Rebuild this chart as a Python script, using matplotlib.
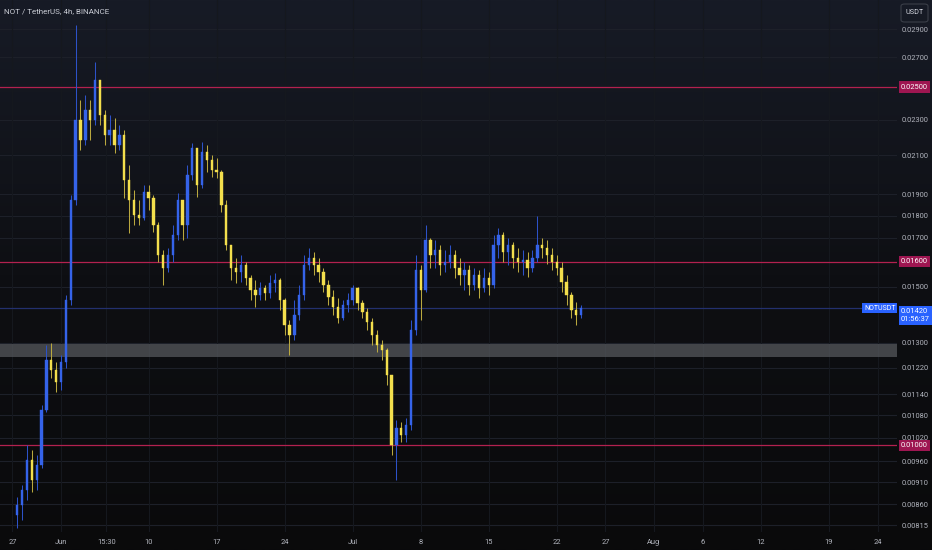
import matplotlib.pyplot as plt
import matplotlib.dates as mdates
import numpy as np
import pandas as pd
from matplotlib.colors import LinearSegmentedColormap
from matplotlib.patches import FancyBboxPatch

# NOT / USDT, 12h candles
FIRST_OPEN = 0.00837
START = "2024-05-27 12:00"

close = [0.00858, 0.00892, 0.00963, 0.00915, 0.00951, 0.01094, 0.01244, 0.01212, 0.01176, 0.01237,
         0.0145, 0.01873, 0.02298, 0.02183, 0.02357, 0.02298, 0.02545, 0.02327, 0.02212, 0.0224,
         0.02156, 0.02212, 0.01971, 0.01873, 0.01802, 0.01788, 0.01911, 0.01882, 0.01757, 0.01627,
         0.01574, 0.01627, 0.01712, 0.01873, 0.01757, 0.01996, 0.02139, 0.01946, 0.02117, 0.02074,
         0.02022, 0.02012, 0.01849, 0.01669, 0.01574, 0.01558, 0.01586, 0.01534, 0.01488, 0.01469,
         0.01496, 0.01476, 0.01515, 0.01526, 0.0145, 0.0136, 0.01326, 0.01395, 0.01469, 0.01586,
         0.01614, 0.01586, 0.01558, 0.01507, 0.01461, 0.01424, 0.01385, 0.01432, 0.0145, 0.01496,
         0.01439, 0.01406, 0.01371, 0.01326, 0.01292, 0.01276, 0.01197, 0.01001, 0.01045, 0.01027,
         0.01053, 0.01343, 0.01566, 0.01488, 0.01691, 0.01627, 0.01648, 0.01586, 0.01598, 0.01627,
         0.01574, 0.01546, 0.01566, 0.01507, 0.01546, 0.01496, 0.01534, 0.01507, 0.01669, 0.01712,
         0.0164, 0.01669, 0.01614, 0.01598, 0.01606, 0.01574, 0.01614, 0.01669, 0.01656, 0.01627,
         0.01598, 0.01574, 0.01518, 0.01469, 0.01413, 0.01395, 0.0142]

high = [0.00876, 0.00904, 0.01001, 0.00988, 0.00976, 0.01109, 0.01292, 0.01299, 0.01237, 0.0126,
        0.01469, 0.01897, 0.0293, 0.02419, 0.0245, 0.02419, 0.02665, 0.02513, 0.02357, 0.02327,
        0.0231, 0.02269, 0.0224, 0.02048, 0.01921, 0.01873, 0.01946, 0.01946, 0.01897, 0.0177,
        0.01648, 0.01656, 0.01757, 0.01907, 0.01849, 0.02048, 0.02167, 0.02128, 0.02172, 0.02156,
        0.02101, 0.02085, 0.02022, 0.01873, 0.01669, 0.01614, 0.01627, 0.01598, 0.01546, 0.01526,
        0.01518, 0.01507, 0.01546, 0.01554, 0.01534, 0.01458, 0.01378, 0.0145, 0.01507, 0.01627,
        0.01656, 0.0164, 0.01614, 0.01574, 0.01526, 0.01488, 0.01458, 0.0145, 0.01476, 0.01507,
        0.01499, 0.0145, 0.0142, 0.01385, 0.01343, 0.01309, 0.01283, 0.01197, 0.01067, 0.01061,
        0.01072, 0.01378, 0.01627, 0.01586, 0.01757, 0.01699, 0.01691, 0.01669, 0.01648, 0.01669,
        0.01648, 0.01614, 0.01598, 0.01586, 0.01574, 0.01566, 0.01574, 0.01558, 0.01712, 0.01743,
        0.01726, 0.01699, 0.01682, 0.01656, 0.01648, 0.0164, 0.01648, 0.01797, 0.01699, 0.01691,
        0.01656, 0.01627, 0.01598, 0.01546, 0.0148, 0.01443, 0.01432]

low = [0.00809, 0.00826, 0.00869, 0.00887, 0.00892, 0.00944, 0.01089, 0.01188, 0.01146, 0.01152,
       0.01219, 0.01432, 0.01849, 0.02128, 0.02156, 0.02183, 0.02269, 0.02269, 0.02156, 0.02156,
       0.02112, 0.02128, 0.01882, 0.01721, 0.01757, 0.01757, 0.01779, 0.01825, 0.01726, 0.01598,
       0.01507, 0.01558, 0.01598, 0.01691, 0.01691, 0.01699, 0.01971, 0.01887, 0.01931, 0.02012,
       0.01986, 0.01981, 0.01816, 0.01648, 0.01526, 0.01515, 0.01518, 0.01507, 0.0145, 0.01424,
       0.0145, 0.0145, 0.01458, 0.0148, 0.01413, 0.01326, 0.0126, 0.01309, 0.01378, 0.0145,
       0.01566, 0.01546, 0.01518, 0.0148, 0.01432, 0.01395, 0.01367, 0.01378, 0.01406, 0.01432,
       0.01413, 0.01385, 0.01343, 0.01292, 0.0127, 0.01244, 0.01167, 0.00976, 0.00915, 0.01008,
       0.01008, 0.0104, 0.01326, 0.01378, 0.0148, 0.01574, 0.01574, 0.01546, 0.01558, 0.01574,
       0.01534, 0.01507, 0.01488, 0.01469, 0.01488, 0.01458, 0.0148, 0.01469, 0.01496, 0.01614,
       0.01598, 0.01586, 0.01574, 0.01558, 0.01546, 0.01538, 0.01558, 0.01598, 0.01614, 0.0159,
       0.01566, 0.01546, 0.0148, 0.01432, 0.01385, 0.0136, 0.01385]

levels = [0.02500, 0.01600, 0.01000]
zone_low, zone_high = 0.01252, 0.01296
last_price = 0.01420
countdown = "01:56:37"

price_ticks = [0.00815, 0.00860, 0.00910, 0.00960, 0.01020, 0.01080, 0.01140, 0.01220, 0.01300,
               0.01500, 0.01700, 0.01800, 0.01900, 0.02100, 0.02300, 0.02700, 0.02900]
date_ticks = ["2024-05-27 00:00", "2024-06-01 00:00", "2024-06-05 15:30", "2024-06-10 00:00",
              "2024-06-17 00:00", "2024-06-24 00:00", "2024-07-01 00:00", "2024-07-08 00:00",
              "2024-07-15 00:00", "2024-07-22 00:00", "2024-07-27 00:00", "2024-08-01 00:00",
              "2024-08-06 00:00", "2024-08-12 00:00", "2024-08-19 00:00", "2024-08-24 00:00"]
date_labels = ["27", "Jun", "15:30", "10", "17", "24", "Jul", "8", "15", "22",
               "27", "Aug", "6", "12", "19", "24"]

UP, DOWN = "#3563e9", "#f3df4d"
UP_WICK, DOWN_WICK = "#2d52c8", "#b9a83f"
LEVEL_RED = "#b3214f"
TXT = "#b2b5be"
plt.rcParams["font.family"] = ["Roboto", "DejaVu Sans"]

fig = plt.figure(figsize=(9.32, 5.5), dpi=100)

# dark gradient background
bg = fig.add_axes([0, 0, 1, 1], zorder=0)
cmap = LinearSegmentedColormap.from_list("bg", ["#171b26", "#0e0f13", "#0a0a0b"])
bg.imshow(np.linspace(0, 1, 256).reshape(-1, 1), cmap=cmap, aspect="auto", extent=[0, 1, 0, 1])
bg.axis("off")

ax = fig.add_axes([0, 18 / 550, 897 / 932, 532 / 550], zorder=1)
ax.set_facecolor("none")
ax.set_yscale("log")

t = pd.date_range(START, periods=len(close), freq="12h")
x = mdates.date2num(t.to_pydatetime())
o = np.array([FIRST_OPEN] + close[:-1])
c = np.array(close)
h = np.array(high)
l = np.array(low)
up = c >= o

ax.vlines(x[up], l[up], h[up], color=UP_WICK, lw=0.75, zorder=3)
ax.vlines(x[~up], l[~up], h[~up], color=DOWN_WICK, lw=0.75, zorder=3)
bottoms = np.minimum(o, c)
heights = np.abs(c - o)
ax.bar(x[up], heights[up], bottom=bottoms[up], width=0.24, color=UP, edgecolor=UP, lw=0.3, zorder=4)
ax.bar(x[~up], heights[~up], bottom=bottoms[~up], width=0.24, color=DOWN, edgecolor=DOWN, lw=0.3, zorder=4)

# grid
xt = mdates.date2num(pd.to_datetime(date_ticks, format="%Y-%m-%d %H:%M").to_pydatetime())
for v in price_ticks:
    ax.axhline(v, color="#1d2029", lw=0.8, zorder=1)
for v in xt:
    ax.axvline(v, color="#15181e", lw=0.8, zorder=1)

# zone and levels
ax.axhspan(zone_low, zone_high, color="#55575c", alpha=0.75, lw=0, zorder=2)
for lv in levels:
    ax.axhline(lv, color=LEVEL_RED, lw=0.9, zorder=2)
ax.axhline(last_price, color="#23306e", lw=0.9, zorder=2)

x0 = xt[0]
ax.set_xlim(x0 - 1.28, x0 + 91.0)
ax.set_ylim(0.00801, 0.03124)

ax.yaxis.tick_right()
ax.set_yticks(price_ticks)
ax.set_yticklabels([f"{v:.5f}" for v in price_ticks])
ax.yaxis.set_minor_locator(plt.NullLocator())
ax.set_xticks(xt)
ax.set_xticklabels(date_labels)
ax.tick_params(axis="both", length=0, colors=TXT, labelsize=5.4)
ax.tick_params(axis="y", pad=3.5)
ax.tick_params(axis="x", pad=5)
for s in ax.spines.values():
    s.set_visible(False)

ytr = ax.get_yaxis_transform()
for lv in levels:
    ax.text(1.0045, lv, f"{lv:.5f}", transform=ytr, ha="left", va="center", fontsize=5.4,
            color="white", zorder=10, clip_on=False,
            bbox=dict(boxstyle="square,pad=0.3", fc="#9e1651", ec="none"))
ax.text(1.0045, last_price, f"{last_price:.5f}\n{countdown}", transform=ytr, ha="left", va="top",
        fontsize=5.4, color="white", zorder=10, clip_on=False, linespacing=1.2,
        bbox=dict(boxstyle="square,pad=0.3", fc="#2962ff", ec="none"))
ax.text(0.9985, last_price, "NOTUSDT", transform=ytr, ha="right", va="center", fontsize=5.0,
        color="white", zorder=10,
        bbox=dict(boxstyle="square,pad=0.25", fc="#2962ff", ec="none"))

fig.text(4 / 932, 1 - 11 / 550, "NOT / TetherUS, 4h, BINANCE", fontsize=5.8, color="#c9ccd4",
         ha="left", va="center")
fig.patches.append(FancyBboxPatch((901 / 932, 1 - 22 / 550), 27 / 932, 18 / 550,
                                  boxstyle="round,pad=0,rounding_size=0.004",
                                  transform=fig.transFigure, fc="none", ec="#3a3e48", lw=0.8))
fig.text(914.5 / 932, 1 - 13 / 550, "USDT", fontsize=5.2, color="#d1d4dc", ha="center", va="center")

fig.savefig("out.png", dpi=100)
